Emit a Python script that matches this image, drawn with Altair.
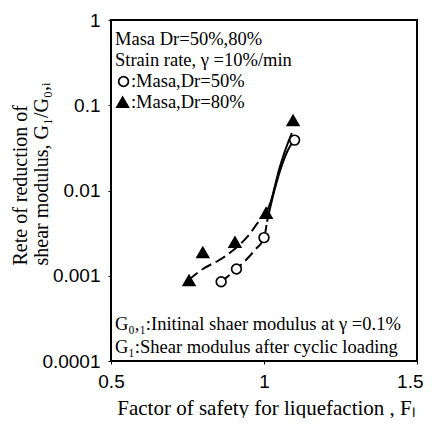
import altair as alt
import pandas as pd

# ---- data ----
fl_50 = [0.86, 0.91, 1.00, 1.10]
g_50 = [0.00085, 0.0012, 0.0028, 0.039]
fl_80 = [0.755, 0.80, 0.905, 1.007, 1.095]
g_80 = [0.00089, 0.0019, 0.0025, 0.0055, 0.067]

# fitted curves: dashed lower part, solid upper part
c80_dash_x = [0.755, 0.80, 0.85, 0.90, 0.95, 0.98, 1.007]
c80_dash_y = [0.0009, 0.0012, 0.0015, 0.002, 0.003, 0.0042, 0.0055]
c80_solid_x = [1.007, 1.02, 1.052, 1.078, 1.091]
c80_solid_y = [0.0055, 0.0071, 0.019, 0.036, 0.047]
c50_dash_x = [0.86, 0.91, 0.97, 1.00, 1.01]
c50_dash_y = [0.00085, 0.0012, 0.002, 0.0028, 0.0043]
c50_solid_x = [1.01, 1.026, 1.059, 1.085, 1.10]
c50_solid_y = [0.0043, 0.0077, 0.02, 0.033, 0.039]

x_ticks = [0.5, 1.0, 1.5]
y_ticks = [1, 0.1, 0.01, 0.001, 0.0001]

note_text = [
    "Masa Dr=50%,80%",
    "Strain rate, γ =10%/min",
    ":Masa,Dr=50%",
    ":Masa,Dr=80%",
    "G₀,₁:Initinal shaer modulus at  γ =0.1%",
    "G₁:Shear modulus after cyclic loading",
]
note_x = [0.513, 0.513, 0.565, 0.565, 0.513, 0.513]
note_y = [0.6, 0.34, 0.19, 0.11, 0.00027, 0.000145]

# legend symbols inside the note box
leg_circle_x = [0.541]
leg_circle_y = [0.19]
leg_tri_x = [0.538]
leg_tri_y = [0.11]

# ---- tables ----
curve_rows = []
for seg, (xs_, ys_, style) in enumerate([
    (c80_dash_x, c80_dash_y, "dash"),
    (c80_solid_x, c80_solid_y, "solid"),
    (c50_dash_x, c50_dash_y, "dash"),
    (c50_solid_x, c50_solid_y, "solid"),
]):
    for xv, yv in zip(xs_, ys_):
        curve_rows.append({"x": xv, "y": yv, "seg": seg, "style": style})
curves = pd.DataFrame(curve_rows)
pts50 = pd.DataFrame({"x": fl_50 + leg_circle_x, "y": g_50 + leg_circle_y})
pts80 = pd.DataFrame({"x": fl_80 + leg_tri_x, "y": g_80 + leg_tri_y})
notes = pd.DataFrame({"x": note_x, "y": note_y, "t": note_text})

xs = alt.Scale(domain=[0.5, 1.5], nice=False, zero=False)
ys = alt.Scale(type="log", domain=[0.0001, 1], nice=False)

X = alt.X("x:Q", scale=xs, axis=alt.Axis(
    values=x_ticks, format="~g", labelFlush=False,
    labelAlign={"condition": {"test": "datum.value == 1.5", "value": "right"}, "value": "center"},
    labelOffset={"condition": {"test": "datum.value == 1.5", "value": 6}, "value": 0},
    title="Factor of safety for liquefaction , Fₗ",
    titleX=155, titleY=47, titleAlign="center", titleBaseline="middle", titleFontSize=21))
Y = alt.Y("y:Q", scale=ys, axis=alt.Axis(
    values=y_ticks, format="~g", labelFlush=False,
    title=["Rete of reduction of", "shear modulus, G₁/G₀,ᵢ"],
    titleX=-91, titleY=245, titleAngle=-90, titleAlign="left",
    titleBaseline="middle", titleLineHeight=21))

lines = alt.Chart(curves).mark_line(color="black", strokeWidth=2, interpolate="monotone").encode(
    x=X, y=Y, detail="seg:N",
    strokeDash=alt.StrokeDash("style:N", scale=alt.Scale(domain=["dash", "solid"], range=[[11, 5], [1, 0]]), legend=None),
)
circles = alt.Chart(pts50).mark_point(shape="circle", size=95, filled=True, fill="white",
                                      stroke="black", strokeWidth=1.7, opacity=1).encode(x=X, y=Y)
triangles = alt.Chart(pts80).mark_point(shape="triangle-up", size=210, filled=True,
                                        color="black", opacity=1).encode(x=X, y=Y)
texts = alt.Chart(notes).mark_text(align="left", baseline="middle", font="Liberation Serif",
                                   fontSize=18.5, color="black").encode(x=X, y=Y, text="t:N")

chart = alt.layer(lines, circles, triangles, texts).properties(
    width=306, height=341,
    padding={"left": 103, "top": 12, "right": 7, "bottom": 57},
    autosize=alt.AutoSizeParams(type="none"),
).configure_view(stroke="black", strokeWidth=2).configure_axis(
    grid=False, domain=False, ticks=True, tickSize=3, tickColor="black",
    labelFont="Liberation Sans", labelFontSize=19, labelColor="black", labelPadding=8,
    titleFont="Liberation Serif", titleFontSize=20, titleFontWeight="normal", titleColor="black",
)

chart.save("out.html", embed_options={"renderer": "svg", "actions": False})
